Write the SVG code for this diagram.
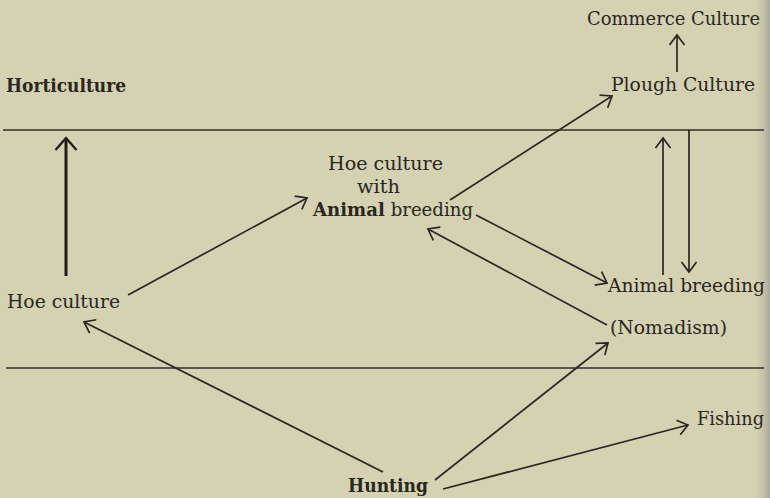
<svg xmlns="http://www.w3.org/2000/svg" width="770" height="498" viewBox="0 0 770 498">
<defs>
<linearGradient id="edge" x1="0" y1="0" x2="1" y2="0">
<stop offset="0" stop-color="#d3d1b3" stop-opacity="0"/>
<stop offset="1" stop-color="#a9a796"/>
</linearGradient>
<marker id="ah" markerUnits="userSpaceOnUse" markerWidth="24" markerHeight="24" viewBox="-12 -12 24 24" refX="0" refY="0" orient="auto" overflow="visible">
<path d="M-10,-7.5 L0,0 L-10,7.5" fill="none" stroke="#2a2722" stroke-width="1.7" stroke-linejoin="miter"/>
</marker>
<marker id="ahb" markerUnits="userSpaceOnUse" markerWidth="30" markerHeight="30" viewBox="-15 -15 30 30" refX="0" refY="0" orient="auto" overflow="visible">
<path d="M-12,-10.5 L0,0 L-12,10.5" fill="none" stroke="#221f1b" stroke-width="2.4"/>
</marker>
</defs>
<style>
text{font-family:"DejaVu Serif","Liberation Serif",serif;font-size:19px;fill:#2a2620}
.b{font-weight:bold}
.ln{stroke:#2a2722;stroke-width:1.7;fill:none}
.rule{stroke:#2f2c27;stroke-width:1.6;fill:none}
</style>
<rect width="770" height="498" fill="#d4d2b2"/>
<rect x="752" y="0" width="18" height="498" fill="url(#edge)"/>
<g id="rules">
<line class="rule" x1="3" y1="130" x2="764" y2="130"/>
<line class="rule" x1="6" y1="368" x2="764" y2="368"/>
</g>
<g id="connectors">
<line class="ln" x1="677" y1="72" x2="677" y2="35" marker-end="url(#ah)"/>
<line x1="66" y1="276" x2="66" y2="138" stroke="#221f1b" stroke-width="3" marker-end="url(#ahb)"/>
<line class="ln" x1="128" y1="295" x2="307" y2="198" marker-end="url(#ah)"/>
<line class="ln" x1="450" y1="200" x2="612" y2="96" marker-end="url(#ah)"/>
<line class="ln" x1="476" y1="215" x2="607" y2="283" marker-end="url(#ah)"/>
<line class="ln" x1="607" y1="325" x2="428" y2="229" marker-end="url(#ah)"/>
<line class="ln" x1="663" y1="275" x2="663" y2="138" marker-end="url(#ah)"/>
<line class="ln" x1="689" y1="130" x2="689" y2="272" marker-end="url(#ah)"/>
<line class="ln" x1="383" y1="472" x2="84" y2="322" stroke-width="2.2" marker-end="url(#ah)"/>
<line class="ln" x1="435" y1="480" x2="608" y2="343" marker-end="url(#ah)"/>
<line class="ln" x1="443" y1="489" x2="688" y2="425" marker-end="url(#ah)"/>
</g>
<g id="horticulture"><text x="6" y="92" class="b" textLength="120" lengthAdjust="spacingAndGlyphs">Horticulture</text></g>
<g id="commerce"><text x="587" y="25" font-size="18" textLength="173" lengthAdjust="spacingAndGlyphs">Commerce Culture</text></g>
<g id="plough"><text x="611" y="91" textLength="144" lengthAdjust="spacingAndGlyphs">Plough Culture</text></g>
<g id="hoe-animal">
<text x="328" y="170" textLength="115" lengthAdjust="spacingAndGlyphs">Hoe culture</text>
<text x="357" y="193" textLength="43" lengthAdjust="spacingAndGlyphs">with</text>
<text x="313" y="216" textLength="160" lengthAdjust="spacingAndGlyphs"><tspan class="b">Animal</tspan> breeding</text>
</g>
<g id="hoe"><text x="7" y="308" textLength="113" lengthAdjust="spacingAndGlyphs">Hoe culture</text></g>
<g id="animal"><text x="608" y="292" textLength="157" lengthAdjust="spacingAndGlyphs">Animal breeding</text></g>
<g id="nomadism"><text x="610" y="334" textLength="117" lengthAdjust="spacingAndGlyphs">(Nomadism)</text></g>
<g id="fishing"><text x="697" y="425" textLength="67" lengthAdjust="spacingAndGlyphs">Fishing</text></g>
<g id="hunting"><text x="348" y="492" class="b" textLength="80" lengthAdjust="spacingAndGlyphs">Hunting</text></g>
</svg>
